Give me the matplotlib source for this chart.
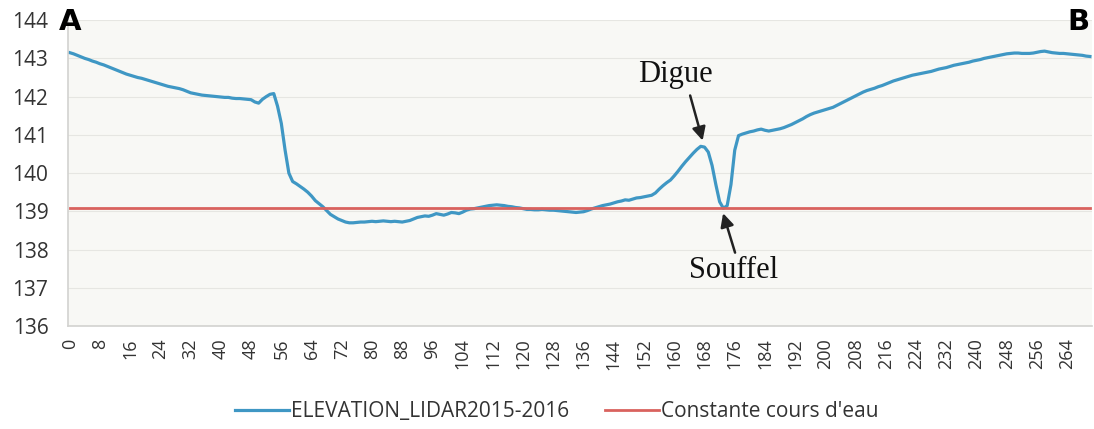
import matplotlib.pyplot as plt
import numpy as np

# elevation profile (one value per category 0..270)
elevation = [
    143.15, 143.12, 143.08, 143.04, 143.00, 142.97, 142.93, 142.90, 142.86, 142.83,
    142.79, 142.75, 142.71, 142.67, 142.63, 142.59, 142.56, 142.53, 142.50, 142.48,
    142.45, 142.42, 142.39, 142.36, 142.33, 142.30, 142.27, 142.25, 142.23, 142.21,
    142.18, 142.14, 142.10, 142.08, 142.06, 142.04, 142.03, 142.02, 142.01, 142.00,
    141.99, 141.98, 141.98, 141.96, 141.95, 141.95, 141.94, 141.93, 141.92, 141.86,
    141.83, 141.93, 142.00, 142.06, 142.08, 141.75, 141.30, 140.60, 140.00, 139.78,
    139.72, 139.65, 139.58, 139.50, 139.40, 139.28, 139.20, 139.12, 139.02, 138.92,
    138.86, 138.80, 138.76, 138.72, 138.70, 138.70, 138.71, 138.72, 138.72, 138.73,
    138.74, 138.73, 138.74, 138.75, 138.74, 138.73, 138.74, 138.73, 138.72, 138.74,
    138.76, 138.80, 138.84, 138.86, 138.88, 138.87, 138.90, 138.94, 138.92, 138.90,
    138.93, 138.97, 138.96, 138.94, 138.98, 139.03, 139.06, 139.07, 139.09, 139.11,
    139.13, 139.15, 139.16, 139.17, 139.16, 139.15, 139.13, 139.12, 139.10, 139.09,
    139.07, 139.05, 139.05, 139.04, 139.04, 139.05, 139.04, 139.03, 139.03, 139.02,
    139.01, 139.00, 138.99, 138.98, 138.97, 138.98, 138.99, 139.02, 139.06, 139.09,
    139.12, 139.15, 139.17, 139.19, 139.22, 139.25, 139.27, 139.30, 139.29, 139.32,
    139.35, 139.36, 139.38, 139.40, 139.42, 139.48, 139.58, 139.67, 139.75, 139.82,
    139.93, 140.05, 140.18, 140.30, 140.41, 140.52, 140.62, 140.70, 140.68, 140.55,
    140.20, 139.70, 139.25, 139.08, 139.15, 139.70, 140.60, 140.98, 141.02, 141.05,
    141.08, 141.10, 141.13, 141.15, 141.12, 141.10, 141.12, 141.14, 141.16, 141.19,
    141.23, 141.27, 141.32, 141.37, 141.42, 141.48, 141.53, 141.57, 141.60, 141.63,
    141.66, 141.69, 141.72, 141.77, 141.82, 141.87, 141.92, 141.97, 142.02, 142.07,
    142.12, 142.16, 142.19, 142.22, 142.26, 142.29, 142.33, 142.37, 142.41, 142.44,
    142.47, 142.50, 142.53, 142.56, 142.58, 142.60, 142.62, 142.64, 142.66, 142.69,
    142.72, 142.74, 142.76, 142.79, 142.82, 142.84, 142.86, 142.88, 142.90, 142.93,
    142.95, 142.97, 143.00, 143.02, 143.04, 143.06, 143.08, 143.10, 143.12, 143.13,
    143.14, 143.14, 143.13, 143.13, 143.13, 143.14, 143.16, 143.18, 143.19, 143.17,
    143.15, 143.14, 143.13, 143.13, 143.12, 143.11, 143.10, 143.09, 143.08, 143.06,
    143.05,
]
water_level = 139.1
tick_step = 8
y_ticks = [136, 137, 138, 139, 140, 141, 142, 143, 144]

n = len(elevation)
x = np.arange(n)
constant = [water_level] * n

fig = plt.figure(figsize=(10.94, 4.29), dpi=100)
fig.patch.set_facecolor('white')
ax = fig.add_axes([0.062, 0.24, 0.936, 0.713])
ax.set_facecolor('#f8f8f5')

ax.plot(x, elevation, color='#3f97c4', lw=2.3, label='ELEVATION_LIDAR2015-2016')
ax.plot(x, constant, color='#d9625e', lw=2.0, label="Constante cours d'eau")

ax.set_xlim(-0.5, n - 0.5)
ax.set_ylim(136, 144)
ax.set_yticks(y_ticks)
ax.set_xticks(x[::tick_step])
ax.set_xticklabels([str(v) for v in x[::tick_step]], rotation=90,
                   fontsize=13, color='#333333', family='Open Sans')
ax.tick_params(axis='y', labelsize=15, colors='#333333', length=0, pad=14)
ax.tick_params(axis='x', length=0, pad=9)
for lab in ax.get_yticklabels():
    lab.set_family('Open Sans')
ax.grid(axis='y', color='#e6e6e2', lw=0.8)
ax.set_axisbelow(True)
for side in ['top', 'right']:
    ax.spines[side].set_visible(False)
for side in ['left', 'bottom']:
    ax.spines[side].set_color('#d2d2d0')
    ax.spines[side].set_linewidth(1.2)

# annotations
ax.annotate('', xy=(167.7, 140.78), xytext=(164.0, 142.1),
            arrowprops=dict(arrowstyle='-|>', color='#222222', lw=1.8,
                            mutation_scale=20))
ax.text(160.3, 142.58, 'Digue', family='Liberation Serif', fontsize=22,
        ha='center', va='center', color='#111111')
ax.annotate('', xy=(172.7, 139.02), xytext=(176.3, 137.85),
            arrowprops=dict(arrowstyle='-|>', color='#222222', lw=1.8,
                            mutation_scale=20))
ax.text(175.7, 137.45, 'Souffel', family='Liberation Serif', fontsize=22,
        ha='center', va='center', color='#111111')

fig.text(0.054, 0.948, 'A', fontsize=21, fontweight='heavy', color='black',
         ha='left', va='center', family='DejaVu Sans')
fig.text(0.996, 0.948, 'B', fontsize=21, fontweight='heavy', color='black',
         ha='right', va='center', family='DejaVu Sans')

leg = fig.legend(loc='center', bbox_to_anchor=(0.509, 0.04), ncol=2,
                 frameon=False, handlelength=2.6, handletextpad=0.1,
                 columnspacing=1.7, prop={'family': 'Open Sans', 'size': 15})
for t in leg.get_texts():
    t.set_color('#333333')

fig.savefig('out.png', dpi=100)
